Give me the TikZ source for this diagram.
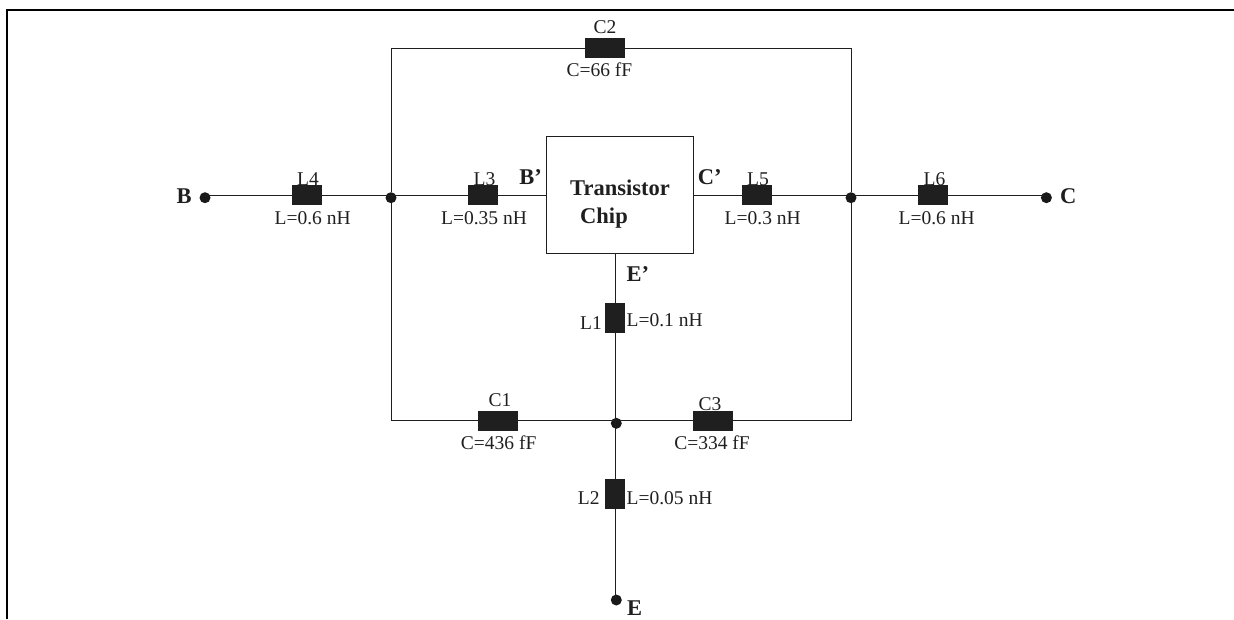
\documentclass[tikz,border=0pt]{standalone}
\usepackage{fontspec}
\setmainfont{Liberation Serif}
\definecolor{inkdark}{HTML}{1F1F1F}
\begin{document}
\begin{tikzpicture}[
    x=1pt, y=-1pt,
    every node/.style={inner sep=0pt, outer sep=0pt, text=inkdark},
    wire/.style={draw=inkdark, line width=0.9pt},
    val/.style={anchor=base, font=\fontsize{19.5}{22}\selectfont},
    term/.style={anchor=base, font=\fontsize{22.5}{25}\selectfont\bfseries},
    hbox/.style={fill=inkdark, minimum width=30pt, minimum height=20pt},
    cbox/.style={fill=inkdark, minimum width=40pt, minimum height=20pt},
    vbox/.style={fill=inkdark, minimum width=20pt, minimum height=30pt},
    dot/.style={circle, fill=black!90, minimum size=11pt},
    chip/.style={draw=inkdark, line width=1pt, minimum width=147pt, minimum height=117.5pt}
]
\useasboundingbox (0,0) rectangle (1234,619);

% outer frame
\draw[line width=2pt, black] (6.7,619) -- (6.7,9.5) -- (1234,9.5);

% labels go first, the boxes cover their lower edge
\node[val] (l4name) at (308,185.5) {L4};
\node[val] (l3name) at (484.5,185.5) {L3};
\node[val] (l5name) at (758,185.5) {L5};
\node[val] (l6name) at (934.5,185.5) {L6};
\node[val] (c2name) at (605,33) {C2};
\node[val] (c1name) at (500,406.7) {C1};
\node[val] (c3name) at (710,410.5) {C3};
\node[val] (l1name) at (591,329.3) {L1};
\node[val] (l2name) at (588.7,504) {L2};

\node[val] (l4val) at (312.6,224) {L=0.6 nH};
\node[val] (l3val) at (484,224) {L=0.35 nH};
\node[val] (l5val) at (762.7,224) {L=0.3 nH};
\node[val] (l6val) at (936.6,224) {L=0.6 nH};
\node[val] (c2val) at (599.4,76) {C=66 fF};
\node[val] (c1val) at (498.7,449.3) {C=436 fF};
\node[val] (c3val) at (712,449.3) {C=334 fF};
\node[val, anchor=base west] (l1val) at (626.7,326.7) {L=0.1 nH};
\node[val, anchor=base west] (l2val) at (626.7,504) {L=0.05 nH};

\node[term] (blabel) at (184.2,203.7) {B};
\node[term] (clabel) at (1068.3,203.7) {C};
\node[term] (elabel) at (634.5,615) {E};
\node[term] (bprime) at (530.5,184) {B’};
\node[term] (cprime) at (709.7,184) {C’};
\node[term] (eprime) at (637.8,281.7) {E’};

% chip and lumped elements
\node[chip, align=center] (chipbox) at (620,195) {};
\node[term] (chiptop) at (620,195) {Transistor};
\node[term] (chipbot) at (604,223) {Chip};

\node[hbox] (L4) at (307,195) {};
\node[hbox] (L3) at (483,195) {};
\node[hbox] (L5) at (757,195) {};
\node[hbox] (L6) at (933,195) {};
\node[cbox] (C2) at (605,48) {};
\node[cbox] (C1) at (498,420.5) {};
\node[cbox] (C3) at (713,420.5) {};
\node[vbox] (L1) at (615,317.5) {};
\node[vbox] (L2) at (615,494) {};

% terminals and junctions
\node[dot] (Bdot) at (205,197.7) {};
\node[dot] (Cdot) at (1046.4,197.7) {};
\node[dot] (Edot) at (616.3,600) {};
\node[dot] (Jleft) at (391,197.7) {};
\node[dot] (Jright) at (851,197.7) {};
\node[dot] (Jbot) at (616.3,423.3) {};

% connectors
\draw[wire] (Bdot |- L4) -- (L4) -- (L3) -- (chipbox.west |- L3);
\draw[wire] (chipbox.east |- L5) -- (L5) -- (L6) -- (Cdot |- L6);
\draw[wire] (L1 |- chipbox.south) -- (L1) -- (L2) -- (L2 |- Edot);
\draw[wire] (C1) -- (C3);
\draw[wire] (C2) -| (Jleft);
\draw[wire] (C1) -| (Jleft);
\draw[wire] (C2) -| (Jright);
\draw[wire] (C3) -| (Jright);

\end{tikzpicture}
\end{document}
